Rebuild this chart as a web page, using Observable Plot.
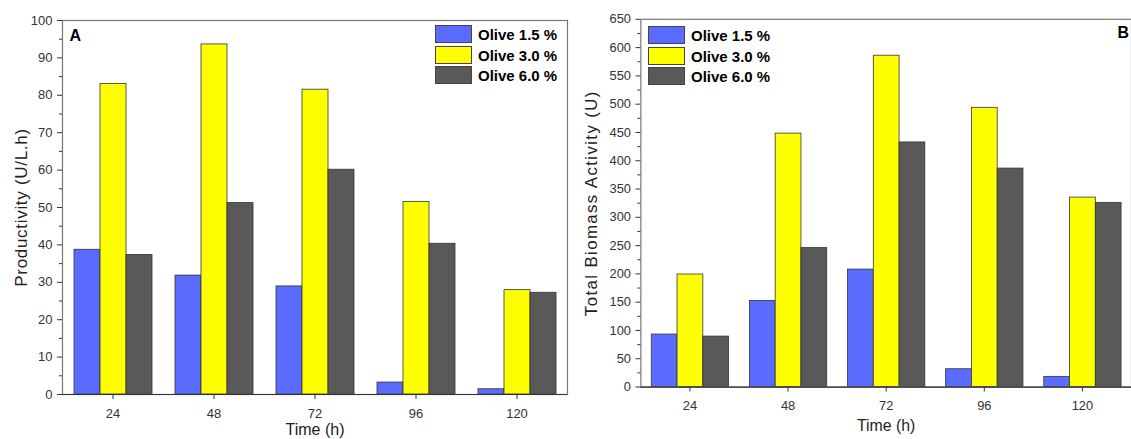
<!DOCTYPE html>
<html>
<head>
<meta charset="utf-8">
<script src="https://cdn.jsdelivr.net/npm/d3@7"></script>
<script src="https://cdn.jsdelivr.net/npm/@observablehq/plot@0.6"></script>
<style>
  body { margin: 0; background: #fff; font-family: "Liberation Sans", Arial, sans-serif; }
  #wrap { position: relative; width: 1131px; height: 439px; overflow: hidden; }
  #chartA { position: absolute; left: 0; top: 0; width: 570px; height: 439px; }
  #chartB { position: absolute; left: 570px; top: 0; width: 561px; height: 439px; overflow: hidden; }
  .legend { position: absolute; font: bold 15px "Liberation Sans", Arial, sans-serif; color: #000; }
  .legend .row { position: absolute; left: 0; height: 17px; white-space: nowrap; }
  .legend .sw { position: absolute; left: 0; top: 0; width: 35px; height: 16px; border: 1px solid #444; }
  .legend .lab { position: absolute; left: 43px; top: 0; line-height: 19px; }
</style>
</head>
<body>
<div id="wrap">
  <div id="chartA"></div>
  <div id="chartB"></div>
</div>
<script>
// ---- data ----
const times = [24, 48, 72, 96, 120];
const series = ["Olive 1.5 %", "Olive 3.0 %", "Olive 6.0 %"];
const colors = ["#5a6bff", "#ffff00", "#595959"];

const prodOlive15 = [38.7, 31.8, 28.9, 3.2, 1.4];
const prodOlive30 = [83.0, 93.6, 81.5, 51.5, 27.9];
const prodOlive60 = [37.3, 51.2, 60.1, 40.3, 27.2];

const bioOlive15 = [92.8, 152.3, 207.6, 31.5, 18.0];
const bioOlive30 = [198.9, 448.0, 585.7, 493.6, 334.9];
const bioOlive60 = [89.2, 245.6, 432.4, 386.2, 325.6];

const yTicksA = [0, 10, 20, 30, 40, 50, 60, 70, 80, 90, 100];
const yMinorA = [5, 15, 25, 35, 45, 55, 65, 75, 85, 95];
const yTicksB = [0, 50, 100, 150, 200, 250, 300, 350, 400, 450, 500, 550, 600, 650];
const yMinorB = [25, 75, 125, 175, 225, 275, 325, 375, 425, 475, 525, 575, 625];

const xLabel = "Time (h)";
const yLabelA = "Productivity (U/L.h)";
const yLabelB = "Total Biomass Activity (U)";
const panelA = "A";
const panelB = "B";

function table(s15, s30, s60) {
  const rows = [];
  [s15, s30, s60].forEach((vals, j) => {
    vals.forEach((v, i) => rows.push({time: times[i], series: series[j], value: v}));
  });
  return rows;
}

const FONT = "Liberation Sans, Arial, sans-serif";

function makeChart({data, width, marginLeft, marginRight, marginTop, marginBottom, yDomain, yTicks, yMinor, yLabel, yLabelDx, panel, panelAnchor, panelDx, panelDy, xLabelDy}) {
  return Plot.plot({
    width, height: 439,
    marginLeft, marginRight, marginTop, marginBottom,
    style: {fontFamily: FONT, fontSize: "13px", color: "#333", background: "white"},
    fx: {domain: times, padding: 0, label: null},
    x: {domain: series, paddingInner: 0, paddingOuter: 0.375, axis: null},
    y: {domain: yDomain, axis: null},
    color: {domain: series, range: colors},
    marks: [
      Plot.barY(data, {fx: "time", x: "series", y: "value", fill: "series", stroke: "#333", strokeWidth: 0.8}),
      Plot.frame({facet: "super", stroke: "#777", strokeWidth: 1.2}),
      Plot.ruleY([0], {stroke: "#333", strokeWidth: 1.2}),
      Plot.axisY({ticks: yTicks, tickSize: 5, tickPadding: 5, stroke: "#333", fill: "#333", fontSize: 13, label: null}),
      Plot.axisY({ticks: yMinor, tickSize: 3, text: null, stroke: "#333", label: null}),
      Plot.axisFx({anchor: "bottom", tickSize: 5, tickPadding: 9, stroke: "#333", fill: "#333", fontSize: 13, label: null}),
      Plot.text([xLabel], {facet: "super", frameAnchor: "bottom", dy: xLabelDy, textAnchor: "middle", lineAnchor: "middle", fontSize: 16, fill: "#222"}),
      Plot.text([yLabel], {facet: "super", frameAnchor: "left", dx: yLabelDx, rotate: -90, textAnchor: "middle", lineAnchor: "middle", fontSize: 17, fill: "#222"}),
      Plot.text([panel], {facet: "super", frameAnchor: panelAnchor, dx: panelDx, dy: panelDy, textAnchor: "start", lineAnchor: "middle", fontSize: 16, fontWeight: "bold", fill: "#000"})
    ]
  });
}

const chartA = makeChart({
  data: table(prodOlive15, prodOlive30, prodOlive60),
  width: 570, marginLeft: 61, marginRight: 2, marginTop: 20, marginBottom: 45,
  yDomain: [0, 100], yTicks: yTicksA, yMinor: yMinorA,
  yLabel: yLabelA, yLabelDx: -41,
  panel: panelA, panelAnchor: "top-left", panelDx: 7, panelDy: 15, xLabelDy: 35
});
const chartB = makeChart({
  data: table(bioOlive15, bioOlive30, bioOlive60),
  width: 566, marginLeft: 70, marginRight: 0, marginTop: 19, marginBottom: 49,
  yDomain: [0, 650], yTicks: yTicksB, yMinor: yMinorB,
  yLabel: yLabelB, yLabelDx: -50,
  panel: panelB, panelAnchor: "top-right", panelDx: -14, panelDy: 14, xLabelDy: 39
});

// letter spacing on the rotated axis titles
[[chartA, yLabelA, 0.7], [chartB, yLabelB, 1.4]].forEach(([svg, label, sp]) => {
  svg.querySelectorAll("text").forEach(t => {
    if (t.textContent === label) t.style.letterSpacing = sp + "px";
  });
});

document.getElementById("chartA").appendChild(chartA);
document.getElementById("chartB").appendChild(chartB);

function legend(parentId, left, top) {
  const div = document.createElement("div");
  div.className = "legend";
  div.style.left = left + "px";
  div.style.top = top + "px";
  series.forEach((s, i) => {
    const row = document.createElement("div");
    row.className = "row";
    row.style.top = (i * 20.7) + "px";
    const sw = document.createElement("div");
    sw.className = "sw";
    sw.style.background = colors[i];
    const lab = document.createElement("div");
    lab.className = "lab";
    lab.textContent = s;
    row.appendChild(sw);
    row.appendChild(lab);
    div.appendChild(row);
  });
  document.getElementById(parentId).appendChild(div);
}
legend("wrap", 435, 25);
legend("wrap", 648, 26);
</script>
</body>
</html>
